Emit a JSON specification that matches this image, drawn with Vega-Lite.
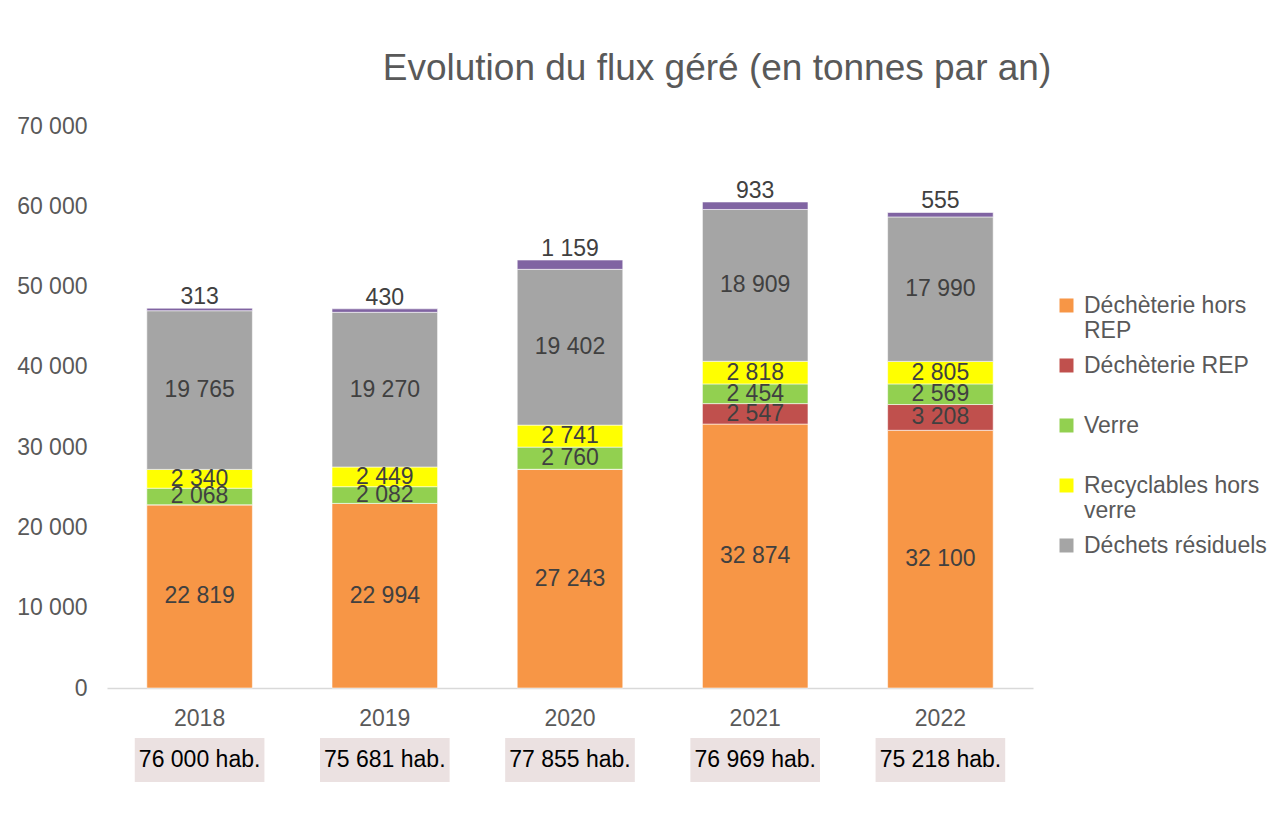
{
  "$schema": "https://vega.github.io/schema/vega-lite/v6.json",
  "padding": {"left": 16, "top": 50, "right": 5, "bottom": 5},
  "background": "white",
  "config": {
    "font": "Liberation Sans",
    "view": {"stroke": null},
    "locale": {"number": {"decimal": ",", "thousands": " ", "grouping": [3], "currency": ["", " €"]}}
  },
  "datasets": {
    "flux": [
      {"annee": "2018", "serie": "Déchèterie hors REP", "valeur": 22819},
      {"annee": "2018", "serie": "Déchèterie REP", "valeur": 0},
      {"annee": "2018", "serie": "Verre", "valeur": 2068},
      {"annee": "2018", "serie": "Recyclables hors verre", "valeur": 2340},
      {"annee": "2018", "serie": "Déchets résiduels", "valeur": 19765},
      {"annee": "2018", "serie": "Autres", "valeur": 313},
      {"annee": "2019", "serie": "Déchèterie hors REP", "valeur": 22994},
      {"annee": "2019", "serie": "Déchèterie REP", "valeur": 0},
      {"annee": "2019", "serie": "Verre", "valeur": 2082},
      {"annee": "2019", "serie": "Recyclables hors verre", "valeur": 2449},
      {"annee": "2019", "serie": "Déchets résiduels", "valeur": 19270},
      {"annee": "2019", "serie": "Autres", "valeur": 430},
      {"annee": "2020", "serie": "Déchèterie hors REP", "valeur": 27243},
      {"annee": "2020", "serie": "Déchèterie REP", "valeur": 0},
      {"annee": "2020", "serie": "Verre", "valeur": 2760},
      {"annee": "2020", "serie": "Recyclables hors verre", "valeur": 2741},
      {"annee": "2020", "serie": "Déchets résiduels", "valeur": 19402},
      {"annee": "2020", "serie": "Autres", "valeur": 1159},
      {"annee": "2021", "serie": "Déchèterie hors REP", "valeur": 32874},
      {"annee": "2021", "serie": "Déchèterie REP", "valeur": 2547},
      {"annee": "2021", "serie": "Verre", "valeur": 2454},
      {"annee": "2021", "serie": "Recyclables hors verre", "valeur": 2818},
      {"annee": "2021", "serie": "Déchets résiduels", "valeur": 18909},
      {"annee": "2021", "serie": "Autres", "valeur": 933},
      {"annee": "2022", "serie": "Déchèterie hors REP", "valeur": 32100},
      {"annee": "2022", "serie": "Déchèterie REP", "valeur": 3208},
      {"annee": "2022", "serie": "Verre", "valeur": 2569},
      {"annee": "2022", "serie": "Recyclables hors verre", "valeur": 2805},
      {"annee": "2022", "serie": "Déchets résiduels", "valeur": 17990},
      {"annee": "2022", "serie": "Autres", "valeur": 555}
    ],
    "population": [
      {"annee": "2018", "habitants": "76 000 hab."},
      {"annee": "2019", "habitants": "75 681 hab."},
      {"annee": "2020", "habitants": "77 855 hab."},
      {"annee": "2021", "habitants": "76 969 hab."},
      {"annee": "2022", "habitants": "75 218 hab."}
    ]
  },
  "resolve": {"scale": {"x": "independent", "color": "independent"}},
  "spacing": 8,
  "vconcat": [
    {
      "width": 926,
      "height": 562,
      "title": {"text": "Evolution du flux géré (en tonnes par an)", "fontSize": 37, "fontWeight": "normal", "color": "#595959", "anchor": "middle", "dx": 147, "offset": 27},
      "data": {"name": "flux"},
      "transform": [
        {"calculate": "indexof(['Déchèterie hors REP','Déchèterie REP','Verre','Recyclables hors verre','Déchets résiduels','Autres'], datum.serie)", "as": "rang"}
      ],
      "encoding": {
        "x": {"field": "annee", "type": "nominal", "scale": {"paddingInner": 0.43, "paddingOuter": 0.215},
          "axis": {"title": null, "labelAngle": 0, "labelFontSize": 23, "labelColor": "#595959", "ticks": false, "domainColor": "#D9D9D9", "domainWidth": 1.3, "labelPadding": 19}}
      },
      "layer": [
        {
          "mark": {"type": "bar", "stroke": "white", "strokeWidth": 0.8, "strokeOpacity": 0.7},
          "encoding": {
            "y": {"field": "valeur", "type": "quantitative", "stack": "zero", "scale": {"domain": [0, 70000]},
              "axis": {"title": null, "values": [0, 10000, 20000, 30000, 40000, 50000, 60000, 70000], "format": ",d", "labelFontSize": 23, "labelColor": "#595959", "ticks": false, "domain": false, "grid": false, "labelPadding": 20}},
            "color": {"field": "serie", "type": "nominal",
              "sort": ["Déchèterie hors REP", "Déchèterie REP", "Verre", "Recyclables hors verre", "Déchets résiduels", "Autres"],
              "scale": {"domain": ["Déchèterie hors REP", "Déchèterie REP", "Verre", "Recyclables hors verre", "Déchets résiduels", "Autres"],
                        "range": ["#F79646", "#C0504D", "#92D050", "#FFFF00", "#A5A5A5", "#8064A2"]},
              "legend": {"orient": "none", "legendX": 948, "legendY": 157, "title": null,
                "values": ["Déchèterie hors REP", "Déchèterie REP", "Verre", "Recyclables hors verre", "Déchets résiduels"],
                "symbolType": "M-1,0.57H1V2.57H-1Z", "symbolSize": 196, "symbolStrokeWidth": 0, "labelFontSize": 23, "labelColor": "#595959",
                "labelLimit": 400, "labelOffset": 6, "rowPadding": 0, "gridAlign": "all", "labelBaseline": "top",
                "labelExpr": "datum.label == 'Déchèterie hors REP' ? ['Déchèterie hors', 'REP'] : datum.label == 'Recyclables hors verre' ? ['Recyclables hors', 'verre'] : datum.label"}},
            "order": {"field": "rang", "type": "quantitative"}
          }
        },
        {
          "transform": [{"filter": "datum.valeur > 0 && datum.serie != 'Autres'"}],
          "mark": {"type": "text", "fontSize": 23, "color": "#404040"},
          "encoding": {
            "y": {"field": "valeur", "type": "quantitative", "stack": "zero", "bandPosition": 0.5},
            "detail": {"field": "serie"},
            "order": {"field": "rang", "type": "quantitative"},
            "text": {"field": "valeur", "type": "quantitative", "format": ",d"}
          }
        },
        {
          "transform": [
            {"joinaggregate": [{"op": "sum", "field": "valeur", "as": "total"}], "groupby": ["annee"]},
            {"filter": "datum.serie == 'Autres'"}
          ],
          "mark": {"type": "text", "fontSize": 23, "color": "#404040", "baseline": "alphabetic", "dy": -4},
          "encoding": {
            "y": {"field": "total", "type": "quantitative"},
            "text": {"field": "valeur", "type": "quantitative", "format": ",d"}
          }
        }
      ]
    },
    {
      "width": 926,
      "height": 44,
      "data": {"name": "population"},
      "encoding": {
        "x": {"field": "annee", "type": "nominal", "scale": {"paddingInner": 0.3, "paddingOuter": 0.15}, "axis": null}
      },
      "layer": [
        {"mark": {"type": "bar", "color": "#EBE1E1"}},
        {"mark": {"type": "text", "fontSize": 23, "color": "#000000"}, "encoding": {"text": {"field": "habitants"}}}
      ]
    }
  ]
}
